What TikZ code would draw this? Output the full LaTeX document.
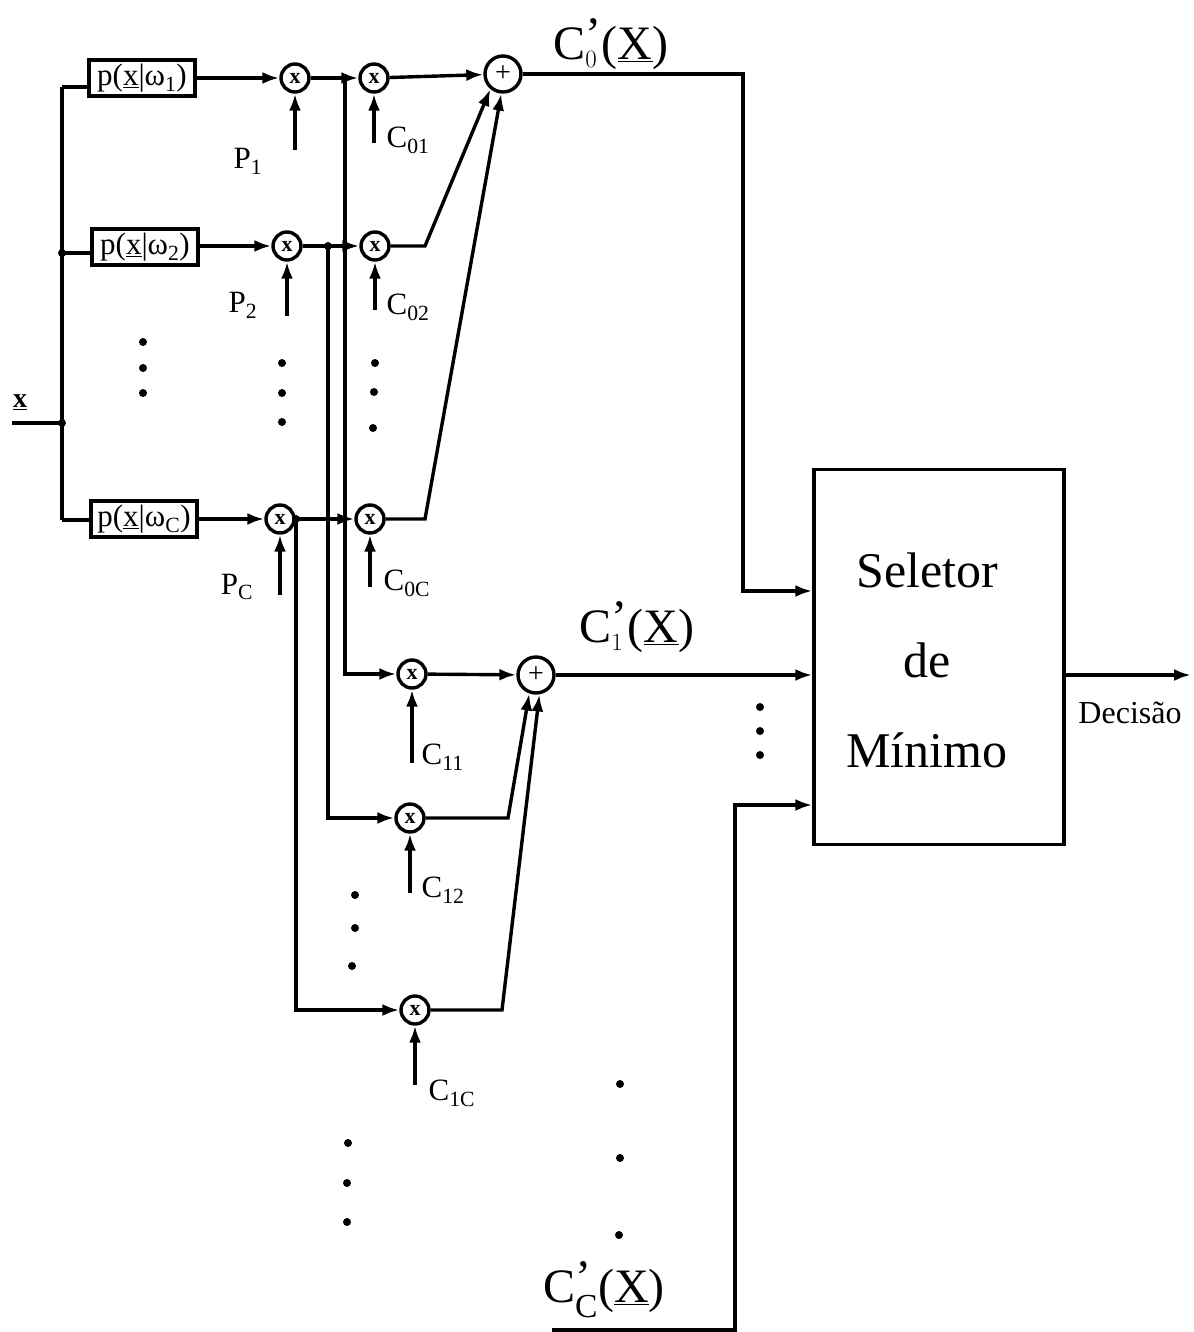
\documentclass[tikz,border=0pt]{standalone}
\usepackage{fontspec}
\setmainfont{Liberation Serif}
\usetikzlibrary{arrows.meta}
\begin{document}
\begin{tikzpicture}[x=1pt,y=-1pt,line width=3.4pt,
  arr/.style={-{Latex[length=17pt,width=12pt]}},
  blk/.style={draw,minimum width=106pt,minimum height=36pt,inner sep=0pt,font=\fontsize{31}{32}\selectfont},
  mult/.style={draw,circle,minimum size=28pt,inner sep=0pt,font=\bfseries\fontsize{22}{22}\selectfont},
  sumn/.style={draw,circle,minimum size=36pt,inner sep=0pt,font=\fontsize{28}{28}\selectfont},
  lbl/.style={font=\fontsize{31}{32}\selectfont,inner sep=0pt},
  big/.style={font=\fontsize{48}{50}\selectfont,inner sep=0pt},
  dotn/.style={circle,fill,minimum size=8pt,inner sep=0pt}]
\useasboundingbox (0,0) rectangle (1193,1332);

% blocks
\node[blk] (box1) at (142,78) {p(\underline{x}|ω\textsubscript{1})};
\node[blk] (box2) at (145,247) {p(\underline{x}|ω\textsubscript{2})};
\node[blk] (boxC) at (144,519) {p(\underline{x}|ω\textsubscript{C})};

% multipliers
\node[mult] (m1) at (295,78) {x};
\node[mult] (m2) at (287,246) {x};
\node[mult] (mC) at (280,519) {x};
\node[mult] (a1) at (374,78) {x};
\node[mult] (a2) at (375,246) {x};
\node[mult] (aC) at (370,519) {x};
\node[mult] (b11) at (412,674) {x};
\node[mult] (b12) at (410,818) {x};
\node[mult] (b1C) at (415,1010) {x};

% sums
\node[sumn] (s0) at (503,74) {+};
\node[sumn] (s1) at (536,675) {+};

% selector
\node[draw,minimum width=250pt,minimum height=375pt,inner sep=0pt] (sel) at (939,657) {};
\node[align=center,inner sep=0pt,font=\fontsize{50}{90}\selectfont] (seltxt) at (927,660) {Seletor\\de\\Mínimo};

% coordinates
\coordinate (xin) at (12,423);
\coordinate (jx) at (62,423);
\coordinate (t1) at (62,87);
\coordinate (jb2) at (62,253);
\coordinate (tC) at (62,520);
\coordinate (j1) at (345,78);
\coordinate (j2) at (328,246);
\coordinate (jC) at (296,519);
\coordinate (k2) at (425,246);
\coordinate (kC) at (425,519);
\coordinate (k12) at (508,818);
\coordinate (k1C) at (502,1010);
\coordinate (o0) at (743,74);
\coordinate (cc) at (552,1330);
\coordinate (ccc) at (735,1330);
\coordinate (out) at (1191,675);
\coordinate (p1) at (295,150);
\coordinate (p2) at (287,316);
\coordinate (pC) at (280,595);
\coordinate (c01) at (374,143);
\coordinate (c02) at (375,310);
\coordinate (c0C) at (370,587);
\coordinate (c11) at (412,763);
\coordinate (c12) at (410,893);
\coordinate (c1C) at (415,1085);

% input distribution
\draw (xin) -- (jx);
\draw (t1) -- (tC);
\draw (t1) -- (box1.west |- t1);
\draw (jb2) -- (box2.west |- jb2);
\draw (tC) -- (boxC.west |- tC);

% first stage
\draw[arr] (box1.east |- m1) -- (m1);
\draw[arr] (box2.east |- m2) -- (m2);
\draw[arr] (boxC.east |- mC) -- (mC);
\draw[arr] (m1) -- (a1);
\draw[arr] (m2) -- (a2);
\draw[arr] (mC) -- (aC);
\draw[arr] (p1) -- (m1);
\draw[arr] (p2) -- (m2);
\draw[arr] (pC) -- (mC);
\draw[arr] (c01) -- (a1);
\draw[arr] (c02) -- (a2);
\draw[arr] (c0C) -- (aC);

% sum 0
\draw[arr] (a1) -- (s0);
\draw[arr] (a2) -- (k2) -- (s0.-130);
\draw[arr] (aC) -- (kC) -- (s0.-95);

% branches to second stage
\draw[arr] (j1) -- (j1 |- b11) -- (b11);
\draw[arr] (j2) -- (j2 |- b12) -- (b12);
\draw[arr] (jC) -- (jC |- b1C) -- (b1C);
\draw[arr] (c11) -- (b11);
\draw[arr] (c12) -- (b12);
\draw[arr] (c1C) -- (b1C);

% sum 1
\draw[arr] (b11) -- (s1);
\draw[arr] (b12) -- (k12) -- (s1.-110);
\draw[arr] (b1C) -- (k1C) -- (s1.-80);

% to selector
\draw[arr] (s0) -- (o0) -- (o0 |- 0,591) -- (sel.west |- 0,591);
\draw[arr] (s1) -- (sel.west |- s1);
\draw[arr] (cc) -- (ccc) -- (ccc |- 0,805) -- (sel.west |- 0,805);
\draw[arr] (sel.east |- s1) -- (out);

% junction dots
\foreach \p in {jb2,jx,j1,j2,jC} \node[dotn] at (\p) {};

% ellipsis dots
\foreach \q in {(143,342),(143,368),(143,393),(282,363),(282,393),(282,422),
  (375,363),(374,392),(373,428),(355,895),(355,928),(352,966),
  (348,1143),(347,1183),(347,1222),(620,1084),(620,1158),(619,1235),
  (760,707),(760,731),(760,755)}
  \node[dotn] at \q {};

% labels
\node[font=\bfseries\fontsize{28}{28}\selectfont,inner sep=0pt] (lx) at (20,402) {\underline{x}};
\node[lbl] (lP1) at (248,161) {P\textsubscript{1}};
\node[lbl] (lP2) at (243,305) {P\textsubscript{2}};
\node[lbl] (lPC) at (237,587) {P\textsubscript{C}};
\node[lbl,anchor=west] (lC01) at (385,140) {C\textsubscript{01}};
\node[lbl,anchor=west] (lC02) at (385,307) {C\textsubscript{02}};
\node[lbl,anchor=west] (lC0C) at (382,583) {C\textsubscript{0C}};
\node[lbl,anchor=west] (lC11) at (420,757) {C\textsubscript{11}};
\node[lbl,anchor=west] (lC12) at (420,890) {C\textsubscript{12}};
\node[lbl,anchor=west] (lC1C) at (427,1093) {C\textsubscript{1C}};
\node[big] (L0) at (611,44) {$\mathrm{C}_{0}^{\mbox{’}}$(\underline{X})};
\node[big] (L1) at (637,627) {$\mathrm{C}_{1}^{\mbox{’}}$(\underline{X})};
\node[big] (LC) at (604,1290) {$\mathrm{C}_{\mathrm{C}}^{\mbox{’}}$(\underline{X})};
\node[font=\fontsize{32}{32}\selectfont,inner sep=0pt] (dec) at (1130,713) {Decisão};
\end{tikzpicture}
\end{document}
